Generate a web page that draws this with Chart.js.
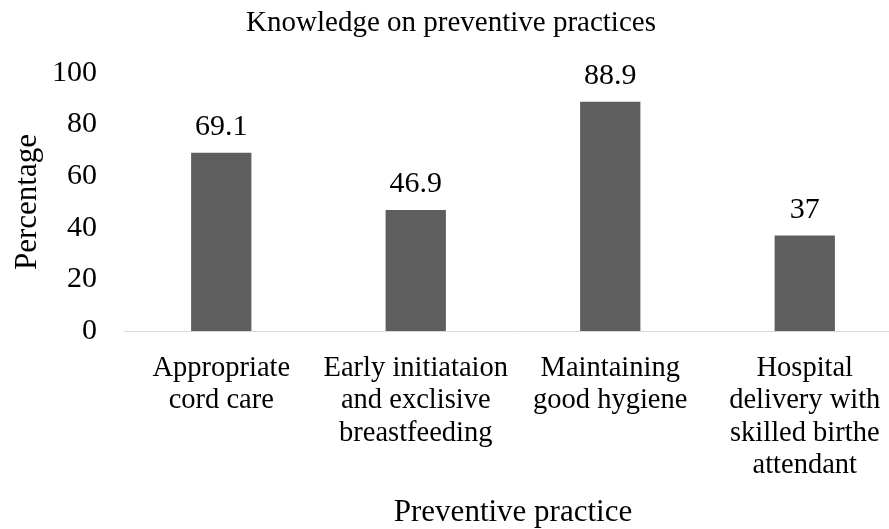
<!DOCTYPE html>
<html>
<head>
<meta charset="utf-8">
<script src="https://cdn.jsdelivr.net/npm/chart.js@4/dist/chart.umd.min.js"></script>
<style>
    html, body { margin: 0; padding: 0; background: #fff; overflow: hidden; }
    #wrap { width: 902px; height: 529px; }
</style>
</head>
<body>
<div id="wrap"><canvas id="chart"></canvas></div>
<script>
const categories = [
    ["Appropriate", "cord care"],
    ["Early initiataion", "and exclisive", "breastfeeding"],
    ["Maintaining", "good hygiene"],
    ["Hospital", "delivery with", "skilled birthe", "attendant"]
];
const percentages = [69.1, 46.9, 88.9, 37];
const yTicks = [0, 20, 40, 60, 80, 100];

const serif = "'Liberation Serif', 'Times New Roman', serif";
const barColor = "#5e5e5e";

// value labels above each bar
const valueLabels = {
    id: 'valueLabels',
    afterDatasetsDraw(chart) {
        let ctx = chart.ctx;
        let meta = chart.getDatasetMeta(0);
        ctx.save();
        ctx.font = `30px ${serif}`;
        ctx.fillStyle = "#000";
        ctx.textAlign = "center";
        ctx.textBaseline = "alphabetic";
        meta.data.forEach((bar, i) => {
            ctx.fillText(String(percentages[i]), bar.x, bar.y - 18);
        });
        ctx.restore();
    }
};

let ctx = document.getElementById('chart').getContext('2d');
let myChart = new Chart(ctx, {
    type: 'bar',
    data: {
        labels: categories,
        datasets: [{
            data: percentages,
            backgroundColor: barColor,
            borderWidth: 0,
            categoryPercentage: 1,
            barPercentage: 0.31
        }]
    },
    options: {
        responsive: true,
        maintainAspectRatio: false,
        animation: false,
        layout: {padding: 0},
        plugins: {
            legend: {display: false},
            tooltip: {enabled: false},
            title: {
                display: true,
                text: "Knowledge on preventive practices",
                color: "#000",
                font: {family: serif, size: 29, weight: 'normal', lineHeight: 1.2},
                padding: {top: 6, bottom: 32.2}
            }
        },
        scales: {
            x: {
                grid: {display: false, drawTicks: false},
                border: {display: true, color: "#d9d9d9", width: 1},
                ticks: {
                    color: "#000",
                    font: {family: serif, size: 28.5, lineHeight: 1.14},
                    padding: 21,
                    maxRotation: 0,
                    autoSkip: false
                },
                title: {
                    display: true,
                    text: "Preventive practice",
                    color: "#000",
                    font: {family: serif, size: 31, lineHeight: 1},
                    padding: {top: 0, bottom: 1}
                },
                afterFit(scale) { scale.height = 198; }
            },
            y: {
                min: 0,
                max: 100,
                grid: {display: false, drawTicks: false},
                border: {display: false},
                afterBuildTicks(scale) { scale.ticks = yTicks.map(v => ({value: v})); },
                ticks: {
                    color: "#000",
                    font: {family: serif, size: 30},
                    padding: 27
                },
                title: {
                    display: true,
                    text: "Percentage",
                    color: "#000",
                    font: {family: serif, size: 31, lineHeight: 1.2},
                    padding: {top: 9, bottom: 0}
                },
                afterFit(scale) { scale.width = 124; }
            }
        }
    },
    plugins: [valueLabels]
});
</script>
</body>
</html>
